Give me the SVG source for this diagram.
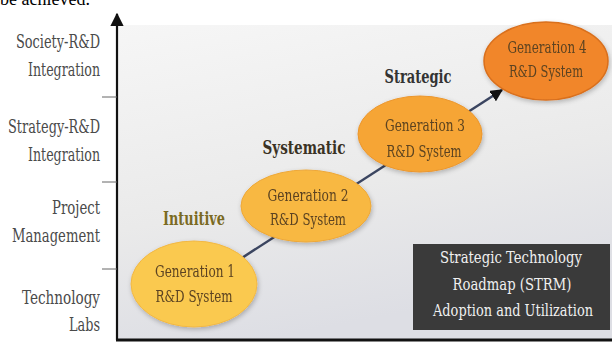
<svg xmlns="http://www.w3.org/2000/svg" width="612" height="342" viewBox="0 0 612 342">
  <defs>
    <linearGradient id="panelFill" x1="0" y1="0" x2="0.3" y2="1">
      <stop offset="0" stop-color="#f6f6f6"/>
      <stop offset="0.6" stop-color="#eaeaea"/>
      <stop offset="1" stop-color="#dddee4"/>
    </linearGradient>
    <filter id="soft" x="-20%" y="-20%" width="140%" height="140%">
      <feGaussianBlur in="SourceAlpha" stdDeviation="2.5"/>
      <feOffset dx="1" dy="2" result="b"/>
      <feComponentTransfer><feFuncA type="linear" slope="0.25"/></feComponentTransfer>
      <feMerge><feMergeNode/><feMergeNode in="SourceGraphic"/></feMerge>
    </filter>
    <marker id="arrowHead" viewBox="0 0 10 10" refX="9" refY="5" markerWidth="5" markerHeight="5" orient="auto" markerUnits="strokeWidth">
      <path d="M0,0 L10,5 L0,10 z" fill="#111"/>
    </marker>
    <marker id="axisHead" viewBox="0 0 10 10" refX="9" refY="5" markerWidth="6" markerHeight="6" orient="auto" markerUnits="strokeWidth">
      <path d="M0,0 L10,5 L0,10 z" fill="#111"/>
    </marker>
  </defs>
  <style>
    .slab { font-family: "DejaVu Serif Condensed", "DejaVu Serif", "Liberation Serif", serif; }
    .axisLabel { font-size: 18px; fill: #4a4a4a; text-anchor: end; }
    .nodeText { font-size: 17px; fill: #5b4321; text-anchor: middle; }
    .stage { font-size: 19px; font-weight: bold; text-anchor: middle; }
    .boxText { font-size: 16px; fill: #f0f0f0; text-anchor: middle; }
  </style>

  <!-- caption line running above the figure -->
  <text x="0" y="5" font-family="Liberation Serif, serif" font-size="18" fill="#000">be achieved.</text>

  <!-- plot background -->
  <rect x="118" y="25" width="494" height="314" fill="url(#panelFill)"/>

  <!-- axes -->
  <g id="axes" stroke="#111" fill="none">
    <line x1="117" y1="340" x2="117" y2="14" stroke-width="2.2" marker-end="url(#axisHead)"/>
    <line x1="116" y1="340" x2="612" y2="340" stroke-width="3"/>
    <line x1="102" y1="97" x2="117" y2="97" stroke="#666" stroke-width="1"/>
    <line x1="102" y1="182" x2="117" y2="182" stroke="#666" stroke-width="1"/>
    <line x1="102" y1="269" x2="117" y2="269" stroke="#666" stroke-width="1"/>
  </g>

  <!-- level labels -->
  <g id="levels" class="slab">
    <text class="axisLabel" x="100" y="48" textLength="84" lengthAdjust="spacingAndGlyphs">Society-R&amp;D</text>
    <text class="axisLabel" x="100" y="76" textLength="72" lengthAdjust="spacingAndGlyphs">Integration</text>
    <text class="axisLabel" x="100" y="133" textLength="92" lengthAdjust="spacingAndGlyphs">Strategy-R&amp;D</text>
    <text class="axisLabel" x="100" y="161" textLength="72" lengthAdjust="spacingAndGlyphs">Integration</text>
    <text class="axisLabel" x="100" y="214" textLength="48" lengthAdjust="spacingAndGlyphs">Project</text>
    <text class="axisLabel" x="100" y="242" textLength="88" lengthAdjust="spacingAndGlyphs">Management</text>
    <text class="axisLabel" x="100" y="304" textLength="78" lengthAdjust="spacingAndGlyphs">Technology</text>
    <text class="axisLabel" x="100" y="331" textLength="31" lengthAdjust="spacingAndGlyphs">Labs</text>
  </g>

  <!-- connectors -->
  <g id="connectors">
    <line x1="200" y1="285" x2="502" y2="90" stroke="#3b4560" stroke-width="2.5" marker-end="url(#arrowHead)"/>
  </g>

  <!-- stage labels -->
  <g id="stages" class="slab">
    <text class="stage" x="194" y="225" fill="#7a6a22" textLength="62" lengthAdjust="spacingAndGlyphs">Intuitive</text>
    <text class="stage" x="304" y="154" fill="#3a3224" textLength="83" lengthAdjust="spacingAndGlyphs">Systematic</text>
    <text class="stage" x="418" y="83" fill="#333" textLength="67" lengthAdjust="spacingAndGlyphs">Strategic</text>
  </g>

  <g id="gen1" class="slab" filter="url(#soft)">
    <ellipse cx="194" cy="284" rx="63" ry="43" fill="#fac950" stroke="#f2b844" stroke-width="1"/>
    <text class="nodeText" x="195" y="277" textLength="80" lengthAdjust="spacingAndGlyphs">Generation 1</text>
    <text class="nodeText" x="194" y="302" textLength="77" lengthAdjust="spacingAndGlyphs">R&amp;D System</text>
  </g>

  <g id="gen2" class="slab" filter="url(#soft)">
    <ellipse cx="306" cy="206" rx="65" ry="36" fill="#f8b843" stroke="#eea838" stroke-width="1"/>
    <text class="nodeText" x="308" y="201" textLength="81" lengthAdjust="spacingAndGlyphs">Generation 2</text>
    <text class="nodeText" x="308" y="225" textLength="76" lengthAdjust="spacingAndGlyphs">R&amp;D System</text>
  </g>

  <g id="gen3" class="slab" filter="url(#soft)">
    <ellipse cx="420" cy="134" rx="62" ry="38" fill="#f6a534" stroke="#ec962c" stroke-width="1"/>
    <text class="nodeText" x="425" y="131" textLength="80" lengthAdjust="spacingAndGlyphs">Generation 3</text>
    <text class="nodeText" x="424" y="157" textLength="75" lengthAdjust="spacingAndGlyphs">R&amp;D System</text>
  </g>

  <g id="gen4" class="slab" filter="url(#soft)">
    <ellipse cx="546" cy="61" rx="62" ry="39" fill="#f1862a" stroke="#d96f1c" stroke-width="1.5"/>
    <text class="nodeText" x="547" y="53" textLength="79" lengthAdjust="spacingAndGlyphs">Generation 4</text>
    <text class="nodeText" x="546" y="77" textLength="74" lengthAdjust="spacingAndGlyphs">R&amp;D System</text>
  </g>

  <!-- summary box -->
  <g id="strmBox" class="slab">
    <rect x="413" y="244" width="197" height="86" fill="#3a3a3a"/>
    <text class="boxText" x="511" y="263" textLength="142" lengthAdjust="spacingAndGlyphs">Strategic Technology</text>
    <text class="boxText" x="512" y="290" textLength="119" lengthAdjust="spacingAndGlyphs">Roadmap (STRM)</text>
    <text class="boxText" x="513" y="316" textLength="160" lengthAdjust="spacingAndGlyphs">Adoption and Utilization</text>
  </g>
</svg>
